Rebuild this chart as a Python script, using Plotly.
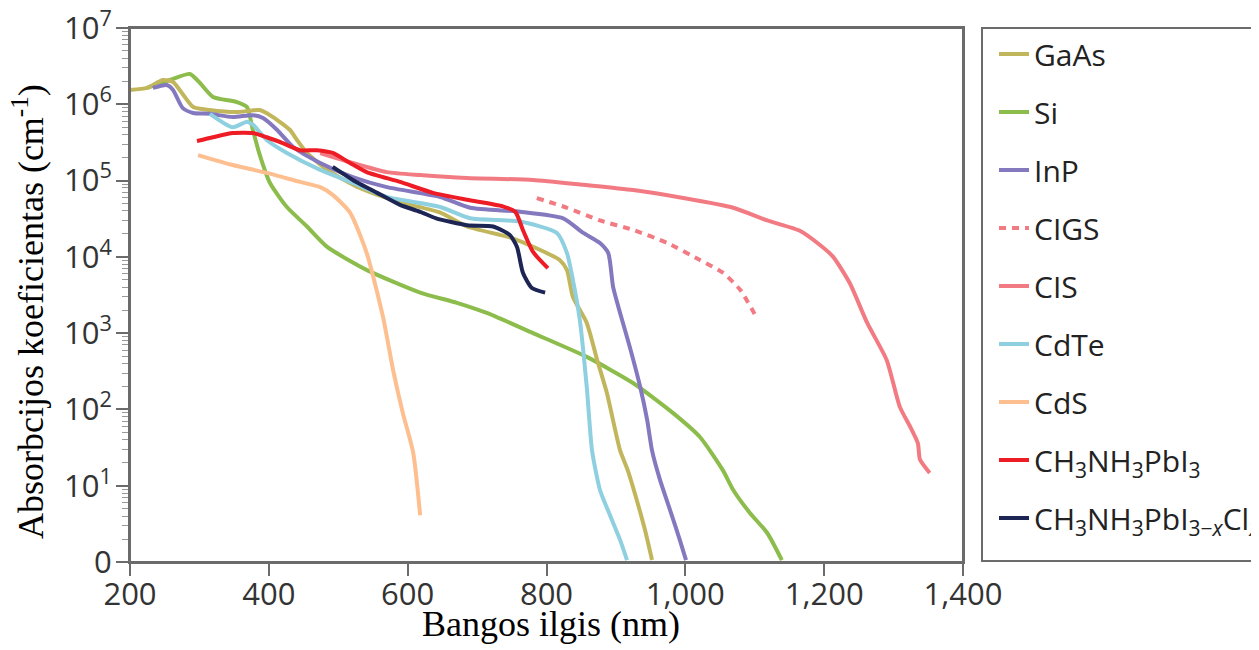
import plotly.graph_objects as go

# ---------------- data (wavelength in nm, absorption coefficient in cm^-1) ----------------
gaas_x = [200, 224.5, 247.5, 262, 291, 315, 354, 387, 406, 430.5, 440.6, 455, 484, 531, 589, 647, 685.5,
          747, 791, 819, 829.5, 838, 858, 873, 887, 906, 917, 930, 942, 952]
gaas_y = [1.54e6, 1.64e6, 2.08e6, 1.96e6, 9.2e5, 8.4e5, 7.9e5, 8.4e5, 6.8e5, 4.6e5, 3.4e5, 2.3e5, 1.38e5,
          8.0e4, 5.2e4, 3.8e4, 2.5e4, 1.8e4, 1.23e4, 9.1e3, 6.7e3, 3.0e3, 1.36e3, 445, 164, 29, 16, 6.5, 2.6, 1.06]

si_x = [224.5, 257.6, 286.4, 300.8, 319.6, 354, 368.5, 377, 387, 401.7, 426, 455, 484, 541.4, 618, 671, 714,
        780.6, 858, 924.6, 982, 1021, 1054, 1069, 1093, 1118, 1139]
si_y = [1.64e6, 2.08e6, 2.5e6, 1.9e6, 1.25e6, 1.07e6, 9.2e5, 4.6e5, 2.16e5, 9.3e4, 4.5e4, 2.5e4, 1.35e4,
        6.7e3, 3.4e3, 2.5e3, 1.84e3, 1.0e3, 488, 222, 90, 43.5, 16, 8.8, 4.4, 2.4, 1.06]

inp_x = [233, 253, 262, 276, 291, 315, 348, 377, 391.6, 412, 435, 474, 521, 570, 647, 690, 762, 824, 853,
         877, 889, 896, 906, 920, 935, 945, 952, 963.5, 978, 992, 1001]
inp_y = [1.64e6, 1.79e6, 1.54e6, 8.9e5, 7.7e5, 7.5e5, 6.8e5, 7.2e5, 6.6e5, 4.6e5, 2.75e5, 1.70e5, 1.11e5,
         8.2e4, 6.1e4, 4.4e4, 3.9e4, 3.2e4, 2.06e4, 1.52e4, 1.12e4, 4.0e3, 1.84e3, 659, 197, 73, 29, 11.9,
         4.8, 1.95, 1.06]

cigs_x = [786, 829.5, 877, 925, 974, 1021, 1054, 1079, 1103]
cigs_y = [5.9e4, 4.4e4, 3.0e4, 2.25e4, 1.52e4, 9.1e3, 6.2e3, 3.7e3, 1.58e3]

cis_x = [474, 521, 570, 618, 685.5, 780.6, 853, 925, 997, 1069, 1118, 1165, 1194, 1213, 1237, 1262, 1290,
         1309, 1324, 1335, 1338, 1352]
cis_y = [2.3e5, 1.70e5, 1.29e5, 1.18e5, 1.08e5, 1.02e5, 8.8e4, 7.5e4, 5.9e4, 4.4e4, 3.0e4, 2.2e4, 1.43e4,
         1.0e4, 4.5e3, 1.36e3, 445, 108, 59, 36, 22, 14.7]

cdte_x = [315, 348, 368.5, 377, 397, 426, 474, 521, 570, 647, 690, 762, 815, 829.5, 838, 848, 858, 865.6,
          877, 891.5, 906, 916]
cdte_y = [7.5e5, 5.0e5, 5.9e5, 5.4e5, 3.4e5, 2.3e5, 1.38e5, 9.3e4, 6.1e4, 4.5e4, 3.2e4, 2.9e4, 2.06e4,
          1.12e4, 5.0e3, 1.49e3, 197, 29, 8.8, 4.1, 1.95, 1.06]

cds_x = [298, 348, 397, 445, 474, 492, 517, 541, 564.5, 579, 593, 608, 618]
cds_y = [2.16e5, 1.6e5, 1.26e5, 9.6e4, 8.2e4, 6.5e4, 3.8e4, 1.12e4, 1.63e3, 329, 90, 27, 4.1]

mapi_x = [296.5, 319.6, 348, 377, 397, 420, 445, 469, 492, 517, 541, 589, 636.5, 685.5, 737, 755, 766,
          780.6, 802]
mapi_y = [3.3e5, 3.7e5, 4.2e5, 4.2e5, 3.7e5, 3.1e5, 2.5e5, 2.5e5, 2.3e5, 1.70e5, 1.29e5, 9.6e4, 6.9e4,
          5.6e4, 4.6e4, 3.9e4, 2.25e4, 1.16e4, 7.1e3]

mapicl_x = [492, 521, 556, 589, 618, 641, 685.5, 723, 747, 757.5, 766, 779, 798]
mapicl_y = [1.51e5, 1.02e5, 6.9e4, 4.8e4, 3.9e4, 3.2e4, 2.6e4, 2.5e4, 1.94e4, 1.35e4, 6.2e3, 3.9e3, 3.4e3]

x_ticks = [200, 400, 600, 800, 1000, 1200, 1400]
x_tick_text = ["200", "400", "600", "800", "1,000", "1,200", "1,400"]
y_ticks = [1, 1e1, 1e2, 1e3, 1e4, 1e5, 1e6, 1e7]
y_tick_text = ["0", "10<sup>1</sup>", "10<sup>2</sup>", "10<sup>3</sup>", "10<sup>4</sup>",
               "10<sup>5</sup>", "10<sup>6</sup>", "10<sup>7</sup>"]

x_title = "Bangos ilgis (nm)"
y_title = "Absorbcijos koeficientas (cm<sup>-1</sup>)"

# ---------------- figure ----------------
series = [
    # (name, x, y, color, dash, legend rank)  -- listed in drawing order
    ("Si", si_x, si_y, "#8cbd4c", "solid", 2),
    ("GaAs", gaas_x, gaas_y, "#c2b65c", "solid", 1),
    ("InP", inp_x, inp_y, "#8479bf", "solid", 3),
    ("CdTe", cdte_x, cdte_y, "#8ecfe0", "solid", 6),
    ("CdS", cds_x, cds_y, "#fdbf8f", "solid", 7),
    ("CIS", cis_x, cis_y, "#f27b83", "solid", 5),
    ("CIGS", cigs_x, cigs_y, "#f27b83", "7px,6px", 4),
    ("CH<sub>3</sub>NH<sub>3</sub>PbI<sub>3</sub>", mapi_x, mapi_y, "#ee1c25", "solid", 8),
    ("CH<sub>3</sub>NH<sub>3</sub>PbI<sub>3\u2212<i>x</i></sub>Cl<sub><i>x</i></sub>", mapicl_x, mapicl_y,
     "#1c2553", "solid", 9),
]

fig = go.Figure()
for name, xs, ys, col, dash, rank in series:
    fig.add_trace(go.Scatter(
        x=xs, y=ys, mode="lines", name=name,
        line=dict(color=col, width=4, dash=dash, shape="spline", smoothing=0.6),
        legendrank=rank, legendgroup=name,
    ))

axis_col = "#6b6b6b"
tick_font = dict(family="Open Sans", size=31, color="#333333")
title_font = dict(family="Liberation Serif", size=36, color="#000000")

minor_vals = [m * 10 ** k for k in range(0, 7) for m in range(2, 10)]

fig.update_xaxes(
    type="linear", range=[200, 1400], automargin=False,
    tickmode="array", tickvals=x_ticks, ticktext=x_tick_text,
    ticks="outside", ticklen=12, tickwidth=1.5, tickcolor=axis_col,
    showline=True, linecolor=axis_col, linewidth=2, mirror=True,
    showgrid=False, zeroline=False, tickfont=tick_font, ticklabelstandoff=-8,
    ticklabeloverflow="allow",
)
fig.update_yaxes(
    type="log", range=[0, 7], automargin=False,
    tickmode="array", tickvals=y_ticks, ticktext=y_tick_text,
    ticks="outside", ticklen=12, tickwidth=1.5, tickcolor=axis_col,
    minor=dict(tickmode="array", tickvals=minor_vals, ticks="outside", ticklen=6,
               tickwidth=1, tickcolor="#999999"),
    showline=True, linecolor=axis_col, linewidth=2, mirror=True,
    showgrid=False, zeroline=False, tickfont=tick_font, ticklabelstandoff=-2,
    ticklabeloverflow="allow",
)

# plot area (page pixels): x 130..963, y 28..562 ; page has an 8px body margin
fig.add_annotation(text=x_title, xref="paper", yref="paper", x=(551 - 130) / 833, y=(562 - 624) / 534,
                   xanchor="center", yanchor="middle", showarrow=False, font=title_font)
fig.add_annotation(text=y_title, xref="paper", yref="paper", x=(28 - 130) / 833, y=(562 - 312) / 534,
                   xanchor="center", yanchor="middle", showarrow=False, font=title_font, textangle=-90)

# plot frame and legend box
fig.add_shape(type="rect", xref="paper", yref="paper", x0=0, x1=1, y0=0, y1=1,
              line=dict(color=axis_col, width=2), fillcolor="rgba(0,0,0,0)", layer="above")
fig.add_shape(type="rect", xref="paper", yref="paper",
              x0=(982 - 130) / 833, x1=1.45, y0=0.002, y1=1,
              line=dict(color=axis_col, width=2), fillcolor="rgba(0,0,0,0)")

fig.update_layout(
    width=1251, height=642,
    margin=dict(l=122, r=296, t=20, b=88, autoexpand=False),
    paper_bgcolor="white", plot_bgcolor="white",
    showlegend=True,
    legend=dict(x=(994 - 130) / 833, xanchor="left", y=1.0, yanchor="top",
                font=dict(family="Open Sans", size=30, color="#222222"),
                bgcolor="rgba(0,0,0,0)", borderwidth=0, tracegroupgap=16,
                itemwidth=30),
)

fig.write_html("out.html")
